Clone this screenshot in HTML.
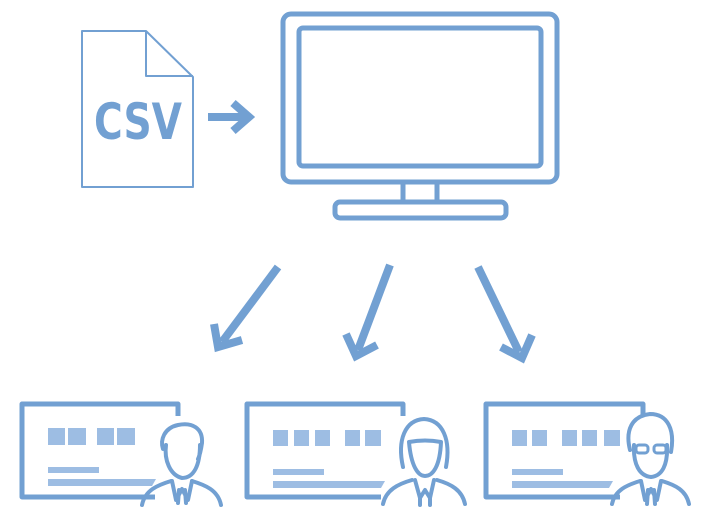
<!DOCTYPE html>
<html><head><meta charset="utf-8"><style>html,body{margin:0;padding:0;background:#fff}svg{display:block}</style></head>
<body>
<svg width="701" height="520" viewBox="0 0 701 520" xmlns="http://www.w3.org/2000/svg">
<g fill="none" stroke="#72a0d2" stroke-linejoin="round">
<path d="M82 31 H146 L193 77 V187 H82 Z" stroke-width="2"/>
<path d="M146 31 V76 H193" stroke-width="2"/>
<path d="M208 117 H245 M233 103 L249 117 L233 131" stroke-width="8" stroke-linejoin="miter"/>
<rect x="283" y="14" width="274" height="168" rx="8" stroke-width="5"/>
<rect x="299" y="28" width="242" height="138" rx="4" stroke-width="5"/>
<path d="M403 182 V202 M437 182 V202" stroke-width="5"/>
<rect x="335" y="202" width="171" height="16" rx="5" stroke-width="5"/>
<g stroke-width="8" stroke-linejoin="miter">
<path d="M278 267 L222 342"/><path d="M214 324 L218 347 L242 340"/>
<path d="M390 265 L358 350"/><path d="M346 334 L356 356 L377 345"/>
<path d="M478 267 L519 352"/><path d="M501 347 L522 358 L532 335"/>
</g>
<g stroke-width="5">
<path d="M155 497 H22 V404 H178 V416"/>
<path d="M381 497 H247 V404 H403 V416"/>
<path d="M620 497 H486 V404 H643 V416"/>
</g>
<g stroke-width="4" stroke-linecap="round">
<path d="M163 449 C160 440 164 428 178 425 C192 422 203 428 202 443 C201 450 200 455 198 459"/>
<path d="M166 445 C164 460 170 475 182 478 C194 478 200 465 200 445"/>
<path d="M142 505 C145 490 158 485 171 481 M192 481 C205 485 218 490 221 505"/>
<path d="M172 481 L176 500 L182 489 L188 500 L192 481 M179 490 L178 503 M185 490 L186 503"/>
<path d="M403 467 C397 440 405 420 424 419 C443 420 451 440 446 467"/>
<path d="M409 442 C411 466 418 476 425 476 C433 476 440 466 441 442 C430 440 420 440 409 442"/>
<path d="M383 504 C386 490 398 484 412 480 M437 480 C451 484 462 490 465 504"/>
<path d="M415 480 L420 498 L425 490 L430 498 L434 480 M420 497 L420 505 M430 497 L430 505"/>
<path d="M630 450 C625 430 632 416 650 414 C668 414 675 430 671 452"/>
<path d="M634 445 C633 465 640 476 651 477 C662 476 668 465 667 445"/>
<rect x="636" y="445" width="12" height="8" rx="3" stroke-width="3"/>
<rect x="654" y="445" width="12" height="8" rx="3" stroke-width="3"/>
<path d="M612 504 C615 490 627 485 640 481 M662 481 C675 485 686 490 689 504"/>
<path d="M641 481 L645 500 L651 489 L657 500 L661 481 M648 490 L647 504 M654 490 L655 504"/>
</g>
</g>
<g fill="#9dbde3">
<rect x="48" y="428" width="17" height="17"/><rect x="68" y="428" width="18" height="17"/><rect x="97" y="428" width="17" height="17"/><rect x="117" y="428" width="18" height="17"/>
<rect x="48" y="467" width="51" height="6"/><polygon points="48,479 156,479 152,486 48,486"/>
<rect x="273" y="430" width="15" height="16"/><rect x="294" y="430" width="15" height="16"/><rect x="315" y="430" width="15" height="16"/><rect x="345" y="430" width="15" height="16"/><rect x="365" y="430" width="16" height="16"/>
<rect x="273" y="469" width="51" height="6"/><polygon points="273,481 385,481 381,488 273,488"/>
<rect x="512" y="430" width="15" height="16"/><rect x="532" y="430" width="15" height="16"/><rect x="562" y="430" width="15" height="16"/><rect x="582" y="430" width="15" height="16"/><rect x="604" y="430" width="16" height="16"/>
<rect x="512" y="469" width="51" height="6"/><polygon points="512,481 613,481 609,488 512,488"/>
</g>
<text x="94" y="139" textLength="88" lengthAdjust="spacingAndGlyphs" font-family="DejaVu Sans, sans-serif" font-weight="bold" font-size="50" fill="#72a0d2">CSV</text>
</svg>
</body></html>
